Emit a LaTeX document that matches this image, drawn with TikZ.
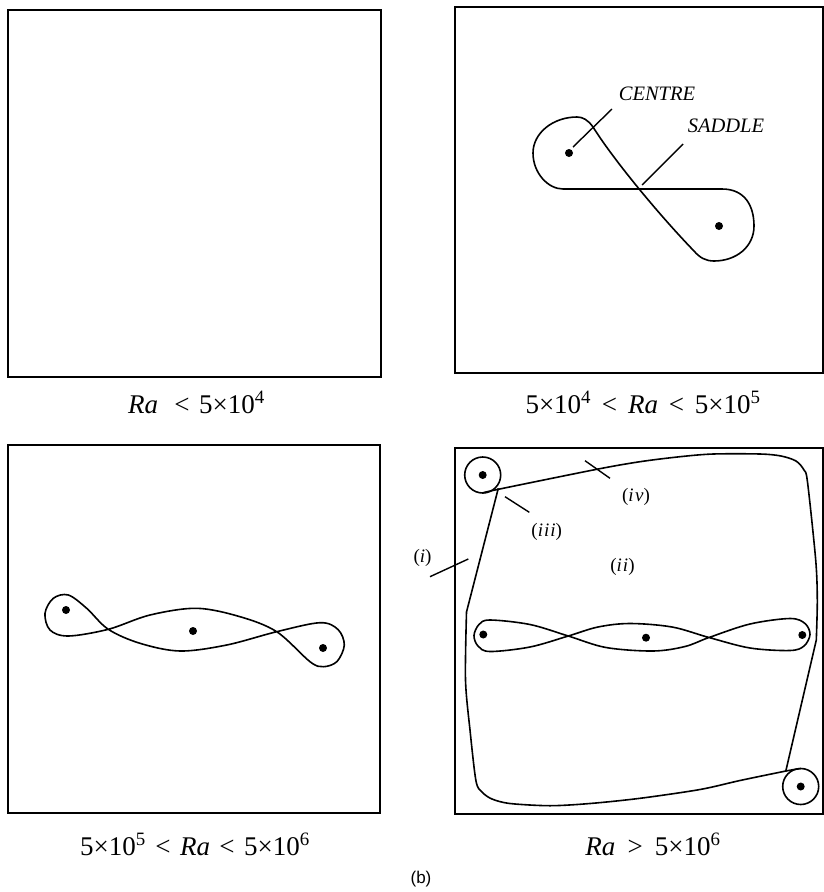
\documentclass[tikz,border=0pt]{standalone}
\usepackage{fontspec}
\setmainfont{Liberation Serif}
\newfontfamily\sansb{Liberation Sans}
\begin{document}
\begin{tikzpicture}[x=1pt,y=-1pt,
  frame/.style={line width=2pt},
  curve/.style={line width=1.6pt, line join=round},
  lead/.style={line width=1.4pt},
  dot/.style={circle, fill=black, inner sep=0pt, minimum size=8pt},
  ring/.style={circle, draw, line width=1.6pt, inner sep=0pt, minimum size=36pt},
  lab/.style={font=\fontsize{27}{31}\selectfont, anchor=base, inner sep=0pt},
  ann/.style={font=\fontsize{20.5}{24}\selectfont\itshape, inner sep=0pt},
  rom/.style={font=\fontsize{19}{22}\selectfont, inner sep=0pt}]
\useasboundingbox (0,0) rectangle (824,892);

% ---------- panel 1 ----------
\draw[frame] (7.5,10) rectangle (381,377);
\node[lab] (l1) at (196.5,413) {\textit{Ra}\hspace{0.6em}<\hspace{0.35em}5×10\textsuperscript{4}};

% ---------- panel 2 ----------
\draw[frame] (455,7) rectangle (822.5,373);
\draw[curve] (563,189) -- (722,189)
  .. controls (745,189) and (754,206) .. (754,226)
  .. controls (754,247) and (736,261) .. (714,261)
  .. controls (706,261) and (700,258) .. (694,251)
  .. controls (662,218) and (615,162) .. (593,127)
  .. controls (588,120) and (583,117) .. (577,117)
  .. controls (553,117) and (533,133) .. (533,153)
  .. controls (533,173) and (548,189) .. (563,189) -- cycle;
\node[dot] (d21) at (569,153) {};
\node[dot] (d22) at (719,226) {};
\node[ann] (centre) at (657,94) {CENTRE};
\node[ann] (saddle) at (726,126) {SADDLE};
\coordinate (c2a) at (573,147);
\coordinate (c2b) at (612,109);
\coordinate (s2a) at (642,185);
\coordinate (s2b) at (683,144);
\draw[lead] (c2a) -- (c2b);
\draw[lead] (s2a) -- (s2b);
\node[lab] (l2) at (643,413) {5×10\textsuperscript{4}\hspace{0.4em}<\hspace{0.4em}\textit{Ra}\hspace{0.4em}<\hspace{0.4em}5×10\textsuperscript{5}};

% ---------- panel 3 ----------
\draw[frame] (8,445) rectangle (380,813);
\draw[curve] plot[smooth cycle, tension=0.55] coordinates {
  (68.3,595) (86.7,608.3) (108.3,629.3) (140,643.3) (180,651) (226.7,645)
  (276.7,631.7) (320,622.7) (338,629.5) (344.3,645) (337,661.5) (323.3,666.7)
  (310,661.7) (276.7,631.7) (240,616.7) (196.7,608.3) (150,615) (108.3,629.3)
  (68.3,636) (50,630) (45,613.3) (53.3,598.3)};
\node[dot] (d31) at (66,610) {};
\node[dot] (d32) at (193,631) {};
\node[dot] (d33) at (323,648) {};
\node[lab] (l3) at (195,855) {5×10\textsuperscript{5}\hspace{0.35em}<\hspace{0.35em}\textit{Ra}\hspace{0.35em}<\hspace{0.35em}5×10\textsuperscript{6}};

% ---------- panel 4 ----------
\draw[frame] (454.5,448) rectangle (822.5,814);
\node[ring] (r41) at (482.7,475) {};
\node[dot] (d41) at (482.7,475) {};
\node[ring] (r42) at (800.7,786.5) {};
\node[dot] (d42) at (800.7,786.5) {};
% upper / right separatrix
\draw[curve] plot[smooth, tension=0.5] coordinates {
  (482.5,493) (498.3,489.3) (596.7,469.3) (640,461.7) (680,456.7) (713.3,454)
  (760,454) (781,456) (796,461) (804,470) (807.5,482) (815.7,560) (817.3,600)
  (816.3,640)} -- (785.7,771.5);
% lower / left separatrix
\draw[curve] plot[smooth, tension=0.5] coordinates {
  (800.7,768.5) (786,771) (740,780.5) (700,789.5) (640,798.3) (590,803.5)
  (550,805.7) (510,803.5) (492,799) (482,792) (476,781) (470,730) (465.5,680)
  (466.5,612)} -- (498.3,488.3);
% middle chain
\draw[curve] plot[smooth cycle, tension=0.55] coordinates {
  (490,620) (530,624.5) (568.3,636) (606,647.5) (653,651) (685,646.5)
  (709,637.5) (750,624) (790,618.5) (805,623.5) (810,634.5) (804,646)
  (790,650.5) (750,648) (709,637.5) (672,627) (630,623.5) (598,627)
  (568.3,636) (530,647) (490,651.5) (478,646) (474,635.5) (479,624.5)};
\node[dot] (d43) at (483.3,634.5) {};
\node[dot] (d44) at (646,637.7) {};
\node[dot] (d45) at (802.3,635) {};
% labels
\node[rom] (li) at (422.5,558) {(\textit{i})};
\node[rom] (lii) at (622.5,566.5) {(\textit{i\kern1pt i})};
\node[rom] (liii) at (546.7,531.5) {(\textit{i\kern1pt i\kern1pt i})};
\node[rom] (liv) at (636,497) {(\textit{i\kern1.5pt v})};
\coordinate (i4a) at (430,576.7);
\coordinate (i4b) at (468.3,559);
\coordinate (iii4a) at (505,496.7);
\coordinate (iii4b) at (529.3,512.3);
\coordinate (iv4a) at (585,460.7);
\coordinate (iv4b) at (610,478.3);
\draw[lead] (i4a) -- (i4b);
\draw[lead] (iii4a) -- (iii4b);
\draw[lead] (iv4a) -- (iv4b);
\node[lab] (l4) at (653,855) {\textit{Ra}\hspace{0.45em}>\hspace{0.45em}5×10\textsuperscript{6}};

% ---------- caption ----------
\node[font=\sansb\fontsize{17}{20}\selectfont, inner sep=0pt] (cap) at (421,879) {(b)};
\end{tikzpicture}
\end{document}
